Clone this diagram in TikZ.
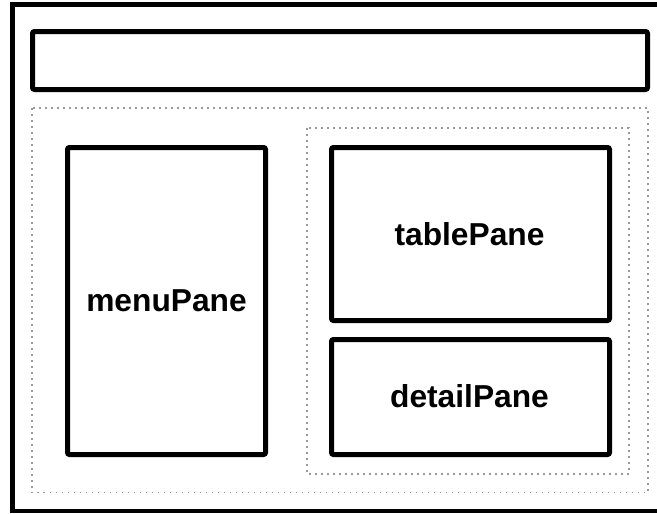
\documentclass[tikz,border=0pt]{standalone}
\usepackage{fontspec}
\setmainfont{Liberation Sans}
\tikzset{every picture/.style={line width=0.75pt}}
\tikzset{
  pane/.style={line width=3.75pt, rounded corners=1.5pt},
  panegroup/.style={draw=gray!80, line width=1.4pt, dash pattern={on 1.4pt off 3.1pt}},
  panelabel/.style={inner sep=0.75pt, font=\bfseries\fontsize{23.8}{28}\selectfont}
}
\begin{document}
\begin{tikzpicture}[x=0.75pt,y=0.75pt,yscale=-1,xscale=1]
	\useasboundingbox (0,0) rectangle (657,514);
	\clip (0,0) rectangle (657,514);
	
	%Shape: Rectangle [frame]
	\draw  [line width=3.4pt]  (12.5,4.5) rectangle (670,511) ;
	%Shape: Rectangle [header]
	\draw  [pane]  (32.5,31.5) rectangle (647.5,89.5) ;
	%Shape: Rectangle [content]
	\draw  [panegroup]  (32,108) rectangle (648,492.5) ;
	%Shape: Rectangle [right side]
	\draw  [panegroup]  (307,128) rectangle (629,474) ;
	%Shape: Rectangle [menu]
	\draw  [pane]  (67.5,147.5) rectangle (265.5,454.5) ;
	%Shape: Rectangle [table]
	\draw  [pane]  (331.5,147.5) rectangle (609.5,320.5) ;
	%Shape: Rectangle [detail]
	\draw  [pane]  (331.5,339.5) rectangle (609.5,454.5) ;
	
	% Text Node
	\node (menuPane) at (166.5,301) [panelabel]  {menuPane};
	% Text Node
	\node (tablePane) at (469.5,234) [panelabel]  {tablePane};
	% Text Node
	\node (detailPane) at (469.5,396) [panelabel]  {detailPane};
	
\end{tikzpicture}
\end{document}
